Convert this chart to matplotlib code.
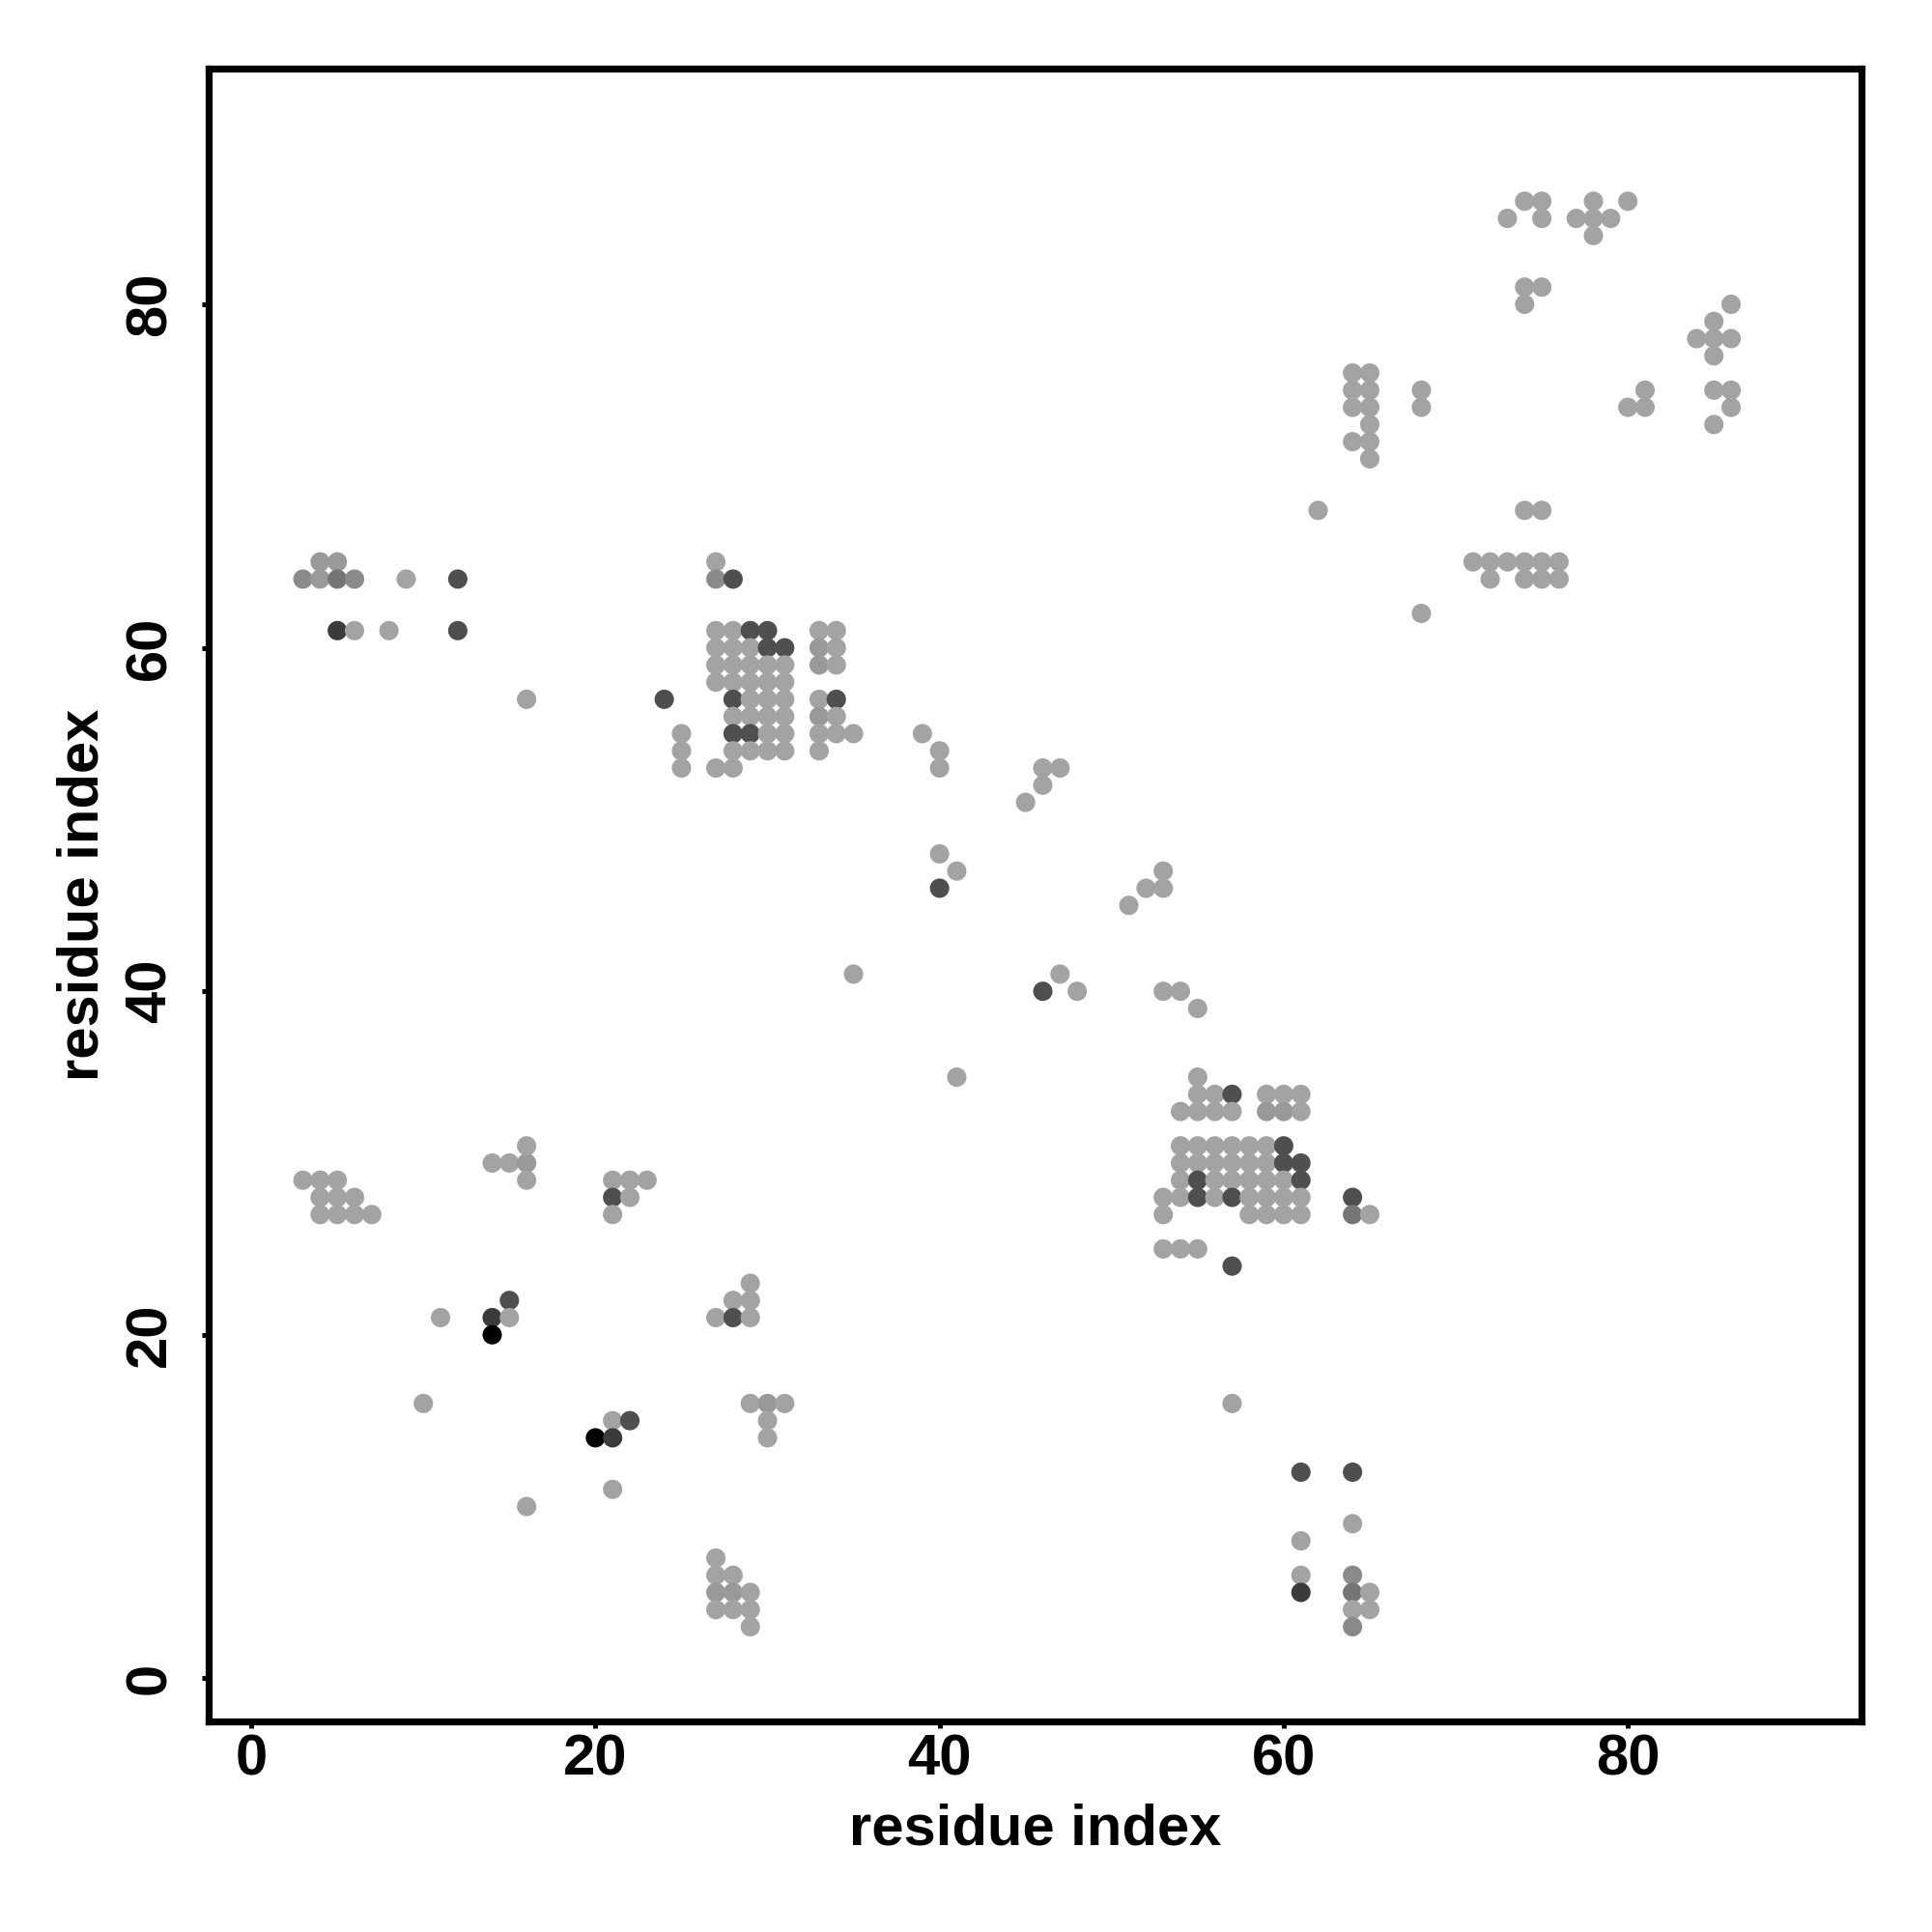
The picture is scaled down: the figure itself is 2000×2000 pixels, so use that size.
import matplotlib
matplotlib.use("Agg")
import matplotlib.pyplot as plt
import numpy as np

plt.rcParams['font.family'] = ['Liberation Sans', 'DejaVu Sans']
plt.rcParams['font.weight'] = 'bold'

# contact map: residue i, residue j, contact weight (1 = weak ... 6 = strongest)
res_i = [
    3, 4, 5, 4, 5, 6, 4, 5, 6, 7,
    14, 15, 16, 16, 16,
    21, 22, 23, 21, 22, 21,
    29, 28, 29, 27, 28, 29,
    11, 14, 15, 15, 14,
    10,
    21, 22, 20, 21,
    21, 16,
    29, 30, 31, 30, 30,
    27, 27, 28, 27, 28, 29, 27, 28, 29, 29,
    4, 5, 3, 4, 5, 6, 9, 12,
    5, 6, 8, 12,
    16, 24,
    25, 25, 25,
    27, 27, 28,
    27, 28, 29, 30, 33, 34,
    27, 28, 29, 30, 31, 33, 34,
    27, 28, 29, 30, 31, 33, 34,
    27, 28, 29, 30, 31,
    28, 29, 30, 31, 33, 34,
    28, 29, 30, 31, 33, 34,
    28, 29, 30, 31, 33, 34, 35,
    28, 29, 30, 31, 33,
    27, 28,
    39, 40, 40,
    46, 47, 46, 45,
    40, 41, 40,
    53, 52, 53, 51,
    35, 47, 46, 48,
    53, 54, 55,
    41,
    55,
    55, 56, 57, 59, 60, 61,
    54, 55, 56, 57, 59, 60, 61,
    54, 55, 56, 57, 58, 59, 60,
    54, 55, 56, 57, 58, 59, 60, 61,
    54, 55, 56, 57, 58, 59, 60, 61,
    53, 54, 55, 56, 57, 58, 59, 60, 61, 64,
    53, 58, 59, 60, 61, 64, 65,
    53, 54, 55,
    57,
    57, 61, 64, 64, 61, 61, 61, 64, 64, 65, 64, 65, 64,
    64, 65, 64, 65, 68, 64, 65, 68, 65, 64, 65, 65,
    62, 74, 75,
    71, 72, 73, 74, 75, 76,
    72, 74, 75, 76,
    68,
    74, 75, 78, 80,
    73, 75, 77, 78, 79,
    78,
    74, 75,
    74, 86,
    85,
    84, 85, 86,
    85,
    81, 85, 86,
    80, 81, 86,
    85,
]
res_j = [
    29, 29, 29, 28, 28, 28, 27, 27, 27, 27,
    30, 30, 30, 31, 29,
    29, 29, 29, 28, 28, 27,
    23, 22, 22, 21, 21, 21,
    21, 21, 22, 21, 20,
    16,
    15, 15, 14, 14,
    11, 10,
    16, 16, 16, 15, 14,
    7, 6, 6, 5, 5, 5, 4, 4, 4, 3,
    65, 65, 64, 64, 64, 64, 64, 64,
    61, 61, 61, 61,
    57, 57,
    55, 54, 53,
    65, 64, 64,
    61, 61, 61, 61, 61, 61,
    60, 60, 60, 60, 60, 60, 60,
    59, 59, 59, 59, 59, 59, 59,
    58, 58, 58, 58, 58,
    57, 57, 57, 57, 57, 57,
    56, 56, 56, 56, 56, 56,
    55, 55, 55, 55, 55, 55, 55,
    54, 54, 54, 54, 54,
    53, 53,
    55, 54, 53,
    53, 53, 52, 51,
    48, 47, 46,
    47, 46, 46, 45,
    41, 41, 40, 40,
    40, 40, 39,
    35,
    35,
    34, 34, 34, 34, 34, 34,
    33, 33, 33, 33, 33, 33, 33,
    31, 31, 31, 31, 31, 31, 31,
    30, 30, 30, 30, 30, 30, 30, 30,
    29, 29, 29, 29, 29, 29, 29, 29,
    28, 28, 28, 28, 28, 28, 28, 28, 28, 28,
    27, 27, 27, 27, 27, 27, 27,
    25, 25, 25,
    24,
    16, 12, 12, 9, 8, 6, 5, 6, 5, 5, 4, 4, 3,
    76, 76, 75, 75, 75, 74, 74, 74, 73, 72, 72, 71,
    68, 68, 68,
    65, 65, 65, 65, 65, 65,
    64, 64, 64, 64,
    62,
    86, 86, 86, 86,
    85, 85, 85, 85, 85,
    84,
    81, 81,
    80, 80,
    79,
    78, 78, 78,
    77,
    75, 75, 75,
    74, 74, 74,
    73,
]
weight = [
    1, 1, 1, 1, 1, 1, 1, 1, 1, 1,
    1, 1, 1.5, 1, 1,
    1, 1, 1, 4, 1, 1,
    1, 1, 1, 1, 4, 1,
    1, 5, 4, 1, 6,
    1,
    1, 4, 6, 5,
    1, 1,
    1, 1.5, 1, 1, 1,
    1, 1, 1, 1.5, 1.5, 1, 1, 1, 1, 1,
    1.5, 1.5, 2, 1.5, 3, 2, 1, 4,
    5, 1, 1, 4,
    1, 4,
    1, 1, 1,
    1, 2, 4,
    1, 1, 4, 4, 1, 1,
    1, 1, 1, 4, 4, 1.5, 1,
    1, 1, 1, 1, 1, 1.5, 1,
    1, 1, 1, 1, 1,
    4, 1, 1, 1, 1, 4,
    1, 1, 1, 1, 1.5, 1,
    4, 4, 1, 1, 1, 1, 1,
    1, 1, 1, 1, 1,
    1, 1,
    1, 1, 1,
    1, 1, 1, 1,
    1, 1, 4,
    1, 1, 1, 1,
    1, 1, 4, 1,
    1, 1, 1,
    1,
    1,
    1, 1, 4, 1, 1, 1,
    1, 1, 1, 1, 1.5, 1.5, 1,
    1, 1, 1, 1, 1, 1, 4,
    1, 1, 1, 1, 1, 1, 4, 4,
    1, 4, 1, 1, 1, 1, 1, 4,
    1, 1, 4, 1, 4, 1, 1, 1, 1, 4,
    1, 1, 1, 1, 1, 3, 1,
    1, 1, 1,
    4,
    1, 4, 4, 1, 1, 1, 5, 2, 3, 1, 1, 1, 2,
    1, 1, 1, 1, 1, 1, 1, 1, 1, 1, 1, 1,
    1, 1, 1,
    1, 1, 1, 1, 1, 1,
    1, 1, 1, 1,
    1,
    1, 1, 1, 1,
    1, 1, 1, 1, 1,
    1,
    1, 1,
    1, 1,
    1,
    1, 1, 1,
    1,
    1, 1, 1,
    1, 1, 1,
    1,
]

ticks = [0, 20, 40, 60, 80]

gray_of = {1: 0.64, 1.5: 0.60, 2: 0.54, 3: 0.46, 4: 0.31, 5: 0.23, 6: 0.0}
colors = [(gray_of[w],) * 3 for w in weight]

fig = plt.figure(figsize=(10, 10), dpi=200)
ax = fig.add_axes([0.1078, 0.1091, 0.8559, 0.8552])
ax.scatter(res_i, res_j, s=52, c=colors, linewidths=0, zorder=3)

ax.set_xlim(-2.5, 93.6)
ax.set_ylim(-2.5, 93.7)
ax.set_xticks(ticks)
ax.set_yticks(ticks)
ax.set_xticklabels([str(t) for t in ticks], fontsize=21.5, fontweight='bold')
ax.set_yticklabels([str(t) for t in ticks], fontsize=21.5, fontweight='bold',
                   rotation=90, va='center')
ax.tick_params(axis='both', length=2.6, width=1.8, direction='out', color='black')
ax.tick_params(axis='x', pad=2)
ax.tick_params(axis='y', pad=9)
for sp in ax.spines.values():
    sp.set_linewidth(2.6)
    sp.set_color('black')

fig.text(0.5357, 0.0452, 'residue index', fontsize=21.5, fontweight='bold',
         ha='center', va='baseline')
fig.text(0.051, 0.537, 'residue index', fontsize=21.5, fontweight='bold',
         ha='center', va='baseline', rotation=90, rotation_mode='anchor')

fig.savefig('out.png', dpi=200, facecolor='white')
